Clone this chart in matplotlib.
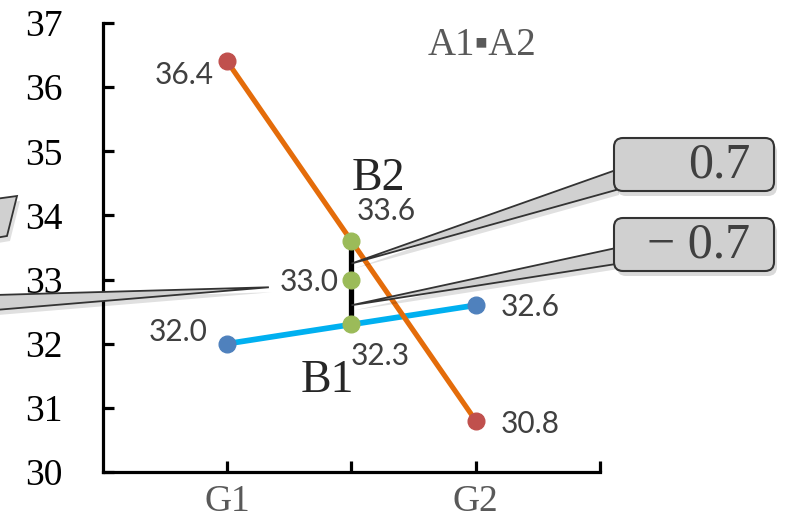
import matplotlib
matplotlib.use('Agg')
import matplotlib.pyplot as plt
from matplotlib.patches import Polygon, FancyBboxPatch
from matplotlib.transforms import IdentityTransform

W, H = 794, 522

groups = ['G1', 'G2']
group_x = [1, 3]
b1_vals = [32.0, 32.6]
b2_vals = [36.4, 30.8]
mid_x = 2
mid_vals = [32.3, 33.0, 33.6]
diff_texts = ['0.7', '\u2212 0.7']
y_ticks = [30, 31, 32, 33, 34, 35, 36, 37]

SERIF = ['Liberation Serif', 'DejaVu Serif']
SANS = ['Lato', 'DejaVu Sans']
LBL = '#404040'


def px(x, y):
    # pixel from top-left -> display coords
    return (x, H - y)


fig = plt.figure(figsize=(W / 100, H / 100), dpi=100)
ax = fig.add_axes([103 / W, 1 - 472 / H, (600 - 103) / W, (472 - 23) / H])
ax.set_xlim(0, 4)
ax.set_ylim(30, 37)

for s in ['top', 'right']:
    ax.spines[s].set_visible(False)
for s in ['left', 'bottom']:
    ax.spines[s].set_linewidth(2.3)
    ax.spines[s].set_capstyle('projecting')

ax.set_yticks(y_ticks)
ax.set_yticklabels([str(v) for v in y_ticks], family=SERIF, fontsize=27, color='black')
ax.set_xticks([1, 2, 3, 4])
ax.set_xticklabels(['G1', '', 'G2', ''], family=SERIF, fontsize=27, color='#595959')
ax.tick_params(axis='y', direction='in', length=8, width=2.3, pad=29)
ax.tick_params(axis='x', direction='in', length=8, width=2.3, pad=9)

# lines
ax.plot(group_x, b1_vals, color='#00B0F0', lw=4.1, zorder=3, solid_capstyle='butt')
ax.plot(group_x, b2_vals, color='#E46C0A', lw=3.7, zorder=4, solid_capstyle='butt')
ax.plot([mid_x, mid_x], [min(mid_vals), max(mid_vals)], color='black', lw=3.8, zorder=5)
ax.plot(group_x, b1_vals, 'o', color='#4F81BD', ms=12, zorder=6)
ax.plot(group_x, b2_vals, 'o', color='#C0504D', ms=12, zorder=6)
ax.plot([mid_x] * 3, mid_vals, 'o', color='#9BBB59', ms=12, zorder=7)

# data labels (offsets in pixels)
lab_kw = dict(textcoords='offset pixels', family=SANS, fontsize=21.5, color=LBL, va='center')
ax.annotate(f'{b2_vals[0]:.1f}', (group_x[0], b2_vals[0]), (-14, -14), ha='right', **lab_kw)
ax.annotate(f'{b1_vals[0]:.1f}', (group_x[0], b1_vals[0]), (-20, 12), ha='right', **lab_kw)
ax.annotate(f'{b1_vals[1]:.1f}', (group_x[1], b1_vals[1]), (25, -2), ha='left', **lab_kw)
ax.annotate(f'{b2_vals[1]:.1f}', (group_x[1], b2_vals[1]), (25, -3), ha='left', **lab_kw)
ax.annotate(f'{mid_vals[2]:.1f}', (mid_x, mid_vals[2]), (5, 30), ha='left', **lab_kw)
ax.annotate(f'{mid_vals[1]:.1f}', (mid_x, mid_vals[1]), (-13, -2), ha='right', **lab_kw)
ax.annotate(f'{mid_vals[0]:.1f}', (mid_x, mid_vals[0]), (-1, -32), ha='left', **lab_kw)

ax.annotate('B2', (mid_x, mid_vals[2]), (0, 51), textcoords='offset pixels',
            family=SERIF, fontsize=33, color='#262626', ha='left', va='baseline')
ax.annotate('B1', (mid_x, mid_vals[0]), (-51, -68), textcoords='offset pixels',
            family=SERIF, fontsize=33, color='#262626', ha='left', va='baseline')

fig.text(482 / W, 1 - 45 / H, 'A1\u25aaA2', family=['Liberation Serif', 'DejaVu Sans'],
         fontsize=28, color='#595959', ha='center', va='center')

# callouts
ident = IdentityTransform()
t1 = ax.transData.transform((mid_x, 33.25))
t2 = ax.transData.transform((mid_x, 32.6))
t3 = ax.transData.transform((1.335, 32.88))

wedges = [
    [px(616, 170), tuple(t1), px(616, 190)],
    [px(616, 248), tuple(t2), px(616, 264)],
    [px(-5, 295), tuple(t3), px(-5, 310)],
    [px(-5, 199), px(17, 196), px(7, 236), px(-5, 238)],
]
for pts in wedges:
    sh = [(x + 3, y - 5) for x, y in pts]
    fig.add_artist(Polygon(sh, closed=True, transform=ident, facecolor='black',
                           alpha=0.12, edgecolor='none', zorder=8))
for pts in wedges:
    fig.add_artist(Polygon(pts, closed=True, transform=ident, facecolor='#D0D0D0',
                           edgecolor='#333333', lw=1.3, zorder=9, joinstyle='miter'))

for (top, txt) in zip([138, 218], diff_texts):
    x0, y0 = px(614, top + 53)
    fig.add_artist(FancyBboxPatch((x0 + 3, y0 - 5), 160, 53,
                                  boxstyle='round,pad=0,rounding_size=9', transform=ident,
                                  facecolor='black', alpha=0.15, edgecolor='none', zorder=8))
    fig.add_artist(FancyBboxPatch((x0, y0), 160, 53,
                                  boxstyle='round,pad=0,rounding_size=9', transform=ident,
                                  facecolor='#D0D0D0', edgecolor='#333333', lw=1.5, zorder=10))
    fig.text(750 / W, 1 - (top + 27) / H, txt, family=SERIF, fontsize=36, color=LBL,
             ha='right', va='center', zorder=11)

fig.savefig('out.png', dpi=100)
